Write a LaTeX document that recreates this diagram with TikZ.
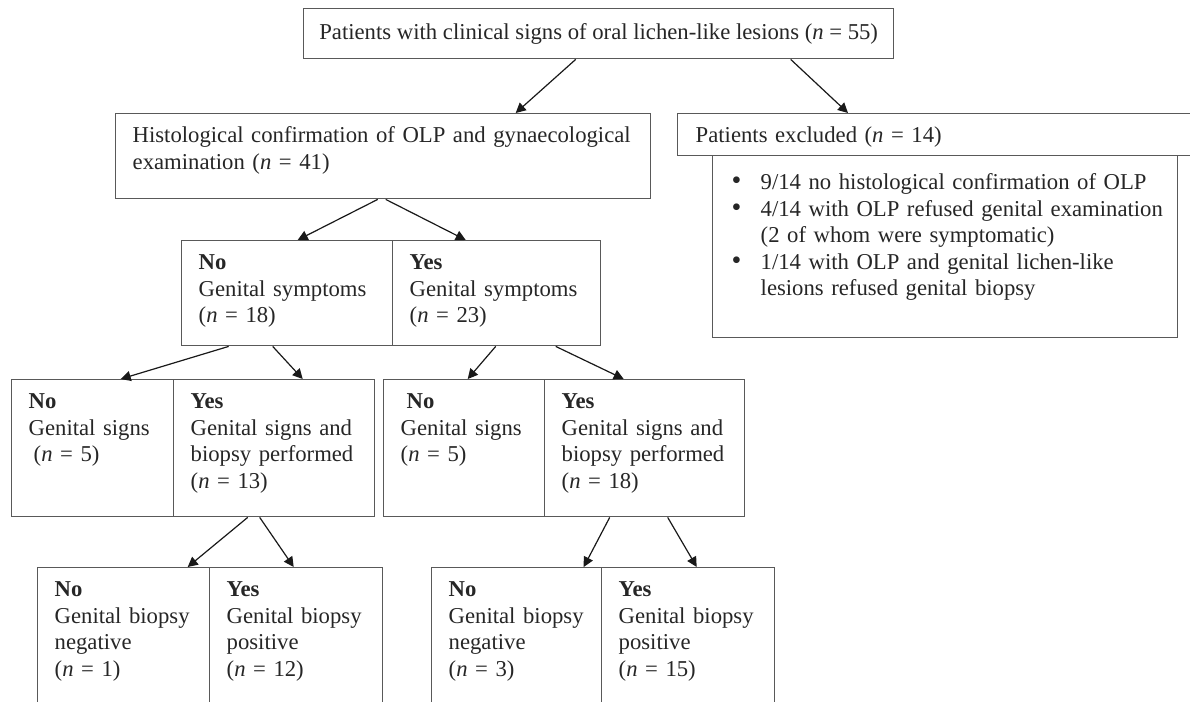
\documentclass[tikz,border=0pt]{standalone}
\usepackage{fontspec}
\setmainfont{Liberation Serif}
\usetikzlibrary{arrows.meta, calc}

\newcommand{\blob}{\makebox[14.5pt][l]{\fontsize{14}{13.25}\selectfont\textbullet}}

\begin{document}
\begin{tikzpicture}[
    x=0.5pt, y=-0.5pt,
    font=\fontsize{11.35}{13.25}\selectfont,
    frame/.style={draw=black!65, line width=0.7pt, text=black!85,
        anchor=north west, inner ysep=6.5pt},
    cell/.style={frame, align=left, inner xsep=8.5pt, text height=8pt},
    symp/.style={cell, text depth=31.5pt},
    sign/.style={cell, text depth=47.5pt},
    biop/.style={cell, text depth=55.5pt},
    move/.style={-{Triangle[length=5pt, width=5pt]}, line width=0.6pt, black!90}
]
\path[use as bounding box, clip] (0,0) rectangle (1190,702);
\node[frame, minimum width=295pt, minimum height=25pt] (T) at (303,8)
    {Patients with clinical signs of oral lichen-like lesions (\textit{n} = 55)};
\node[cell, text width=250.5pt, text depth=21.5pt] (H) at (115,113)
    {Histological confirmation of OLP and gynaecological\\examination (\textit{n} = 41)};
\node[cell, inner xsep=9pt, text width=248.5pt, text depth=0pt] (X) at (677,113)
    {Patients excluded (\textit{n} = 14)};
\node[cell, inner xsep=9.5pt, text width=213.5pt, text height=10.5pt, text depth=67.5pt] (XL) at (712,155)
    {\begin{tabular}[t]{@{}l@{}l@{}}
    \blob & 9/14 no histological confirmation of OLP\\
    \blob & 4/14 with OLP refused genital examination\\
     & (2 of whom were symptomatic)\\
    \blob & 1/14 with OLP and genital lichen-like\\
     & lesions refused genital biopsy
    \end{tabular}};
\node[symp, text width=88.5pt] (SN) at (181,240) {\textbf{No}\\Genital symptoms\\(\textit{n} = 18)};
\node[symp, text width=87pt] (SY) at (392,240) {\textbf{Yes}\\Genital symptoms\\(\textit{n} = 23)};
\node[sign, text width=64pt] (GNa) at (11,379) {\textbf{No}\\Genital signs\\\hspace*{2.5pt}(\textit{n} = 5)};
\node[sign, text width=83.5pt] (GYa) at (173,379) {\textbf{Yes}\\Genital signs and\\biopsy performed\\(\textit{n} = 13)};
\node[sign, text width=63.5pt] (GNb) at (383,379) {\hspace*{3pt}\textbf{No}\\Genital signs\\(\textit{n} = 5)};
\node[sign, text width=83pt] (GYb) at (544,379) {\textbf{Yes}\\Genital signs and\\biopsy performed\\(\textit{n} = 18)};
\node[biop, text width=69pt] (BNa) at (37,567) {\textbf{No}\\Genital biopsy\\negative\\(\textit{n} = 1)};
\node[biop, text width=69.5pt] (BYa) at (209,567) {\textbf{Yes}\\Genital biopsy\\positive\\(\textit{n} = 12)};
\node[biop, text width=68pt] (BNb) at (431,567) {\textbf{No}\\Genital biopsy\\negative\\(\textit{n} = 3)};
\node[biop, text width=69.5pt] (BYb) at (601,567) {\textbf{Yes}\\Genital biopsy\\positive\\(\textit{n} = 15)};
\draw[move] ($(T.south)+(-23,0)$) -- ($(H.north)+(132.5,0)$);
\draw[move] ($(T.south)+(192,0)$) -- ($(X.north west)+(171,0)$);
\draw[move] ($(H.south)+(-5.5,0)$) -- ($(SN.north)+(10.5,0)$);
\draw[move] ($(H.south)+(2.5,0)$) -- ($(SY.north)+(-31,0)$);
\draw[move] ($(SN.south)+(-58.5,0)$) -- ($(GNa.north)+(28,0)$);
\draw[move] ($(SN.south)+(-14.5,0)$) -- ($(GYa.north)+(28.5,0)$);
\draw[move] ($(SY.south)+(-1,0)$) -- ($(GNb.north)+(3.5,0)$);
\draw[move] ($(SY.south)+(59,0)$) -- ($(GYb.north)+(-21,0)$);
\draw[move] ($(GYa.south)+(-26.5,0)$) -- ($(BNa.north)+(64,0)$);
\draw[move] ($(GYa.south)+(-14.5,0)$) -- ($(BYa.north)+(-2.5,0)$);
\draw[move] ($(GYb.south)+(-35,0)$) -- ($(BNb.north)+(67,0)$);
\draw[move] ($(GYb.south)+(23,0)$) -- ($(BYb.north)+(8.5,0)$);
\end{tikzpicture}
\end{document}
